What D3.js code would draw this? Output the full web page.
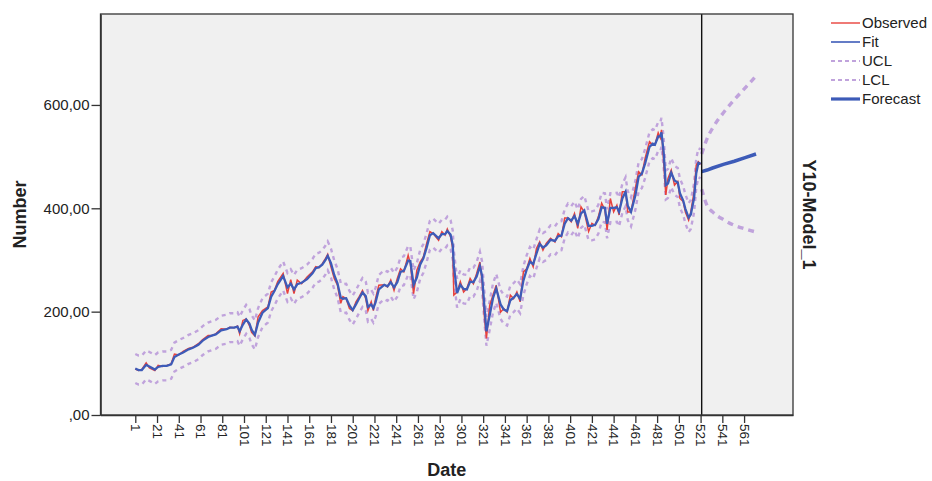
<!DOCTYPE html>
<html>
<head>
<meta charset="utf-8">
<script src="https://cdnjs.cloudflare.com/ajax/libs/d3/7.8.5/d3.min.js"></script>
<style>
  body { margin: 0; background: #fff; }
  text { font-family: "Liberation Sans", Arial, sans-serif; fill: #222; }
</style>
</head>
<body>
<svg id="chart" width="932" height="481"></svg>
<script>
// sample dates (case numbers)
var dates = [1,4,7,11,14,19,22,26,30,34,37,41,45,50,54,59,63,68,72,75,
  80,85,88,92,95,97,100,103,106,108,111,114,118,123,126,129,132,137,141,144,
  147,150,154,159,164,167,170,173,176,178,181,184,187,190,192,195,198,201,204,207,
  210,213,215,218,220,222,225,230,233,236,239,242,245,248,252,254,257,260,263,266,
  269,272,275,280,283,286,288,291,293,294,297,300,303,306,309,312,315,318,320,322,
  324,327,330,333,337,340,343,346,349,352,355,358,361,364,367,370,373,376,379,383,
  387,390,393,396,399,402,405,408,411,414,418,421,424,427,430,433,435,438,441,444,
  446,449,452,454,457,461,464,467,470,474,477,479,482,484,485,487,489,491,494,497,
  500,502,505,507,510,512,515,517,519,521];

var observed = [89,86,88,101,91,86,96,94,96,99,118,116,123,129,131,138,146,154,154,157,
  167,166,170,169,172,157,183,186,173,160,153,190,202,209,238,241,258,274,235,262,
  235,261,254,267,277,287,285,293,303,311,287,264,251,216,229,225,206,202,219,229,
  241,225,202,219,202,225,251,252,248,261,241,264,283,277,309,293,235,280,296,306,
  332,355,351,338,355,348,360,345,322,232,238,258,238,245,264,254,274,296,258,193,
  148,212,232,251,199,206,199,232,225,238,219,277,283,303,287,322,335,319,332,342,
  335,351,345,381,381,374,390,361,403,393,355,371,367,384,410,397,358,419,393,406,
  387,432,432,393,393,439,471,465,497,529,523,523,546,536,552,490,426,458,474,445,
  452,419,413,393,377,393,432,484,490,485];

var fit = [90,87,87,97,94,88,93,95,95,98,112,117,121,127,130,136,144,151,154,156,
  164,166,169,169,171,162,175,185,177,165,155,179,198,207,229,240,253,269,247,254,
  243,253,256,263,274,284,286,291,300,308,294,271,255,227,225,226,212,203,214,226,
  237,230,209,214,207,218,243,252,249,257,247,257,277,279,299,298,252,266,291,303,
  324,348,352,342,350,350,356,349,329,290,236,252,244,243,258,257,268,288,269,213,
  162,193,226,245,214,204,201,222,227,234,225,260,281,297,292,312,331,324,328,339,
  337,346,347,370,381,376,385,370,390,396,366,366,368,379,402,401,370,401,401,402,
  393,419,432,405,393,425,461,467,487,519,525,523,539,539,547,509,445,448,469,454,
  450,429,415,399,382,388,420,468,488,486];

var ucl = [118,115,115,125,122,116,121,123,123,126,140,145,149,155,158,164,172,179,182,184,
  192,194,197,197,199,190,203,213,205,193,183,207,226,235,257,268,281,297,275,282,
  271,281,284,291,302,312,314,319,328,336,322,299,283,255,253,254,240,231,242,254,
  265,258,237,242,235,246,271,280,277,285,275,285,305,307,327,326,280,294,319,331,
  352,376,380,370,378,378,384,377,357,318,264,280,272,271,286,285,296,316,297,241,
  190,221,254,273,242,232,229,250,255,262,253,288,309,325,320,340,359,352,356,367,
  365,374,375,398,409,404,413,398,418,424,394,394,396,407,430,429,398,429,429,430,
  421,447,460,433,421,453,489,495,515,547,553,551,567,567,575,537,473,476,497,482,
  478,457,443,427,410,416,448,496,516,514];

var lcl = [62,59,59,69,66,60,65,67,67,70,84,89,93,99,102,108,116,123,126,128,
  136,138,141,141,143,134,147,157,149,137,127,151,170,179,201,212,225,241,219,226,
  215,225,228,235,246,256,258,263,272,280,266,243,227,199,197,198,184,175,186,198,
  209,202,181,186,179,190,215,224,221,229,219,229,249,251,271,270,224,238,263,275,
  296,320,324,314,322,322,328,321,301,262,208,224,216,215,230,229,240,260,241,185,
  134,165,198,217,186,176,173,194,199,206,197,232,253,269,264,284,303,296,300,311,
  309,318,319,342,353,348,357,342,362,368,338,338,340,351,374,373,342,373,373,374,
  365,391,404,377,365,397,433,439,459,491,497,495,511,511,519,481,417,420,441,426,
  422,401,387,371,354,360,392,440,460,458];

// forecast period
var fcDates = [522,527,532,542,552,562,572];
var forecast = [471,474,478,485,491,498,505];
var fcUcl = [505,535,555,585,610,633,656];
var fcLcl = [437,405,393,378,367,360,354];

var xTicks = [1,21,41,61,81,101,121,141,161,181,201,221,241,261,281,301,321,341,361,381,
  401,421,441,461,481,501,521,541,561];
var yTicks = [0,200,400,600];
var yLabels = [",00","200,00","400,00","600,00"];

var svg = d3.select("#chart"),
    margin = {top: 14, right: 139, bottom: 66, left: 100.5},
    width = +svg.attr("width") - margin.left - margin.right,
    height = +svg.attr("height") - margin.top - margin.bottom;

var x = d3.scaleLinear().domain([-31, 606]).range([0, width]);
var y = d3.scaleLinear().domain([0, 776]).range([height, 0]);

function zip(d, v) {
  return d.map(function(t, i) { return {date: t, value: v[i]}; });
}

var line = d3.line()
    .x(function(d) { return x(d.date); })
    .y(function(d) { return y(d.value); });

var curved = d3.line()
    .x(function(d) { return x(d.date); })
    .y(function(d) { return y(d.value); })
    .curve(d3.curveMonotoneX);

var g = svg.append("g")
    .attr("transform", "translate(" + margin.left + "," + margin.top + ")");

g.append("rect")
    .attr("width", width)
    .attr("height", height)
    .attr("fill", "#f0f0f0");

g.append("clipPath").attr("id", "clip")
  .append("rect").attr("width", width).attr("height", height);

var plot = g.append("g").attr("clip-path", "url(#clip)");

var lilac = "#c0a3dc", red = "#e8413c", blue = "#3d5bb8";

[ucl, lcl].forEach(function(s) {
  plot.append("path")
      .datum(zip(dates, s))
      .attr("d", line)
      .attr("fill", "none")
      .attr("stroke", lilac)
      .attr("stroke-width", 2.4)
      .attr("stroke-dasharray", "4,4");
});

[fcUcl, fcLcl].forEach(function(s) {
  plot.append("path")
      .datum(zip(fcDates, s))
      .attr("d", curved)
      .attr("fill", "none")
      .attr("stroke", lilac)
      .attr("stroke-width", 3.4)
      .attr("stroke-dasharray", "6,5");
});

plot.append("path")
    .datum(zip(dates, observed))
    .attr("d", line)
    .attr("fill", "none")
    .attr("stroke", red)
    .attr("stroke-width", 1.5);

plot.append("path")
    .datum(zip(dates, fit))
    .attr("d", line)
    .attr("fill", "none")
    .attr("stroke", blue)
    .attr("stroke-width", 2.3);

plot.append("path")
    .datum(zip(fcDates, forecast))
    .attr("d", line)
    .attr("fill", "none")
    .attr("stroke", blue)
    .attr("stroke-width", 3.6);

// start of forecast
g.append("line")
    .attr("x1", x(fcDates[0])).attr("x2", x(fcDates[0]))
    .attr("y1", 0).attr("y2", height)
    .attr("stroke", "#111")
    .attr("stroke-width", 1.4);

g.append("rect")
    .attr("width", width)
    .attr("height", height)
    .attr("fill", "none")
    .attr("stroke", "#333")
    .attr("stroke-width", 1.3);

var yAxis = g.append("g")
    .call(d3.axisLeft(y).tickValues(yTicks)
      .tickFormat(function(d, i) { return yLabels[i]; })
      .tickSize(9).tickSizeOuter(0).tickPadding(2));
yAxis.select(".domain").attr("stroke", "#333").attr("stroke-width", 1.6);
yAxis.selectAll(".tick line").attr("stroke", "#333").attr("stroke-width", 1.3);
yAxis.selectAll("text").style("font-size", "15px").attr("fill", "#222");

var xAxis = g.append("g")
    .attr("transform", "translate(0," + height + ")")
    .call(d3.axisBottom(x).tickValues(xTicks).tickSize(8).tickSizeOuter(0));
xAxis.select(".domain").attr("stroke", "#333").attr("stroke-width", 1.6);
xAxis.selectAll(".tick line").attr("stroke", "#333").attr("stroke-width", 1.3);
xAxis.selectAll("text")
    .attr("transform", "rotate(90)")
    .attr("x", 9).attr("y", 0).attr("dy", "0.35em")
    .style("text-anchor", "start")
    .style("font-size", "13.5px")
    .attr("fill", "#222");

svg.append("text")
    .attr("transform", "translate(26," + (margin.top + height / 2) + ") rotate(-90)")
    .attr("text-anchor", "middle")
    .style("font-size", "18px").style("font-weight", "bold")
    .text("Number");

svg.append("text")
    .attr("x", margin.left + width / 2).attr("y", 476)
    .attr("text-anchor", "middle")
    .style("font-size", "18px").style("font-weight", "bold")
    .text("Date");

svg.append("text")
    .attr("transform", "translate(803," + (margin.top + height / 2) + ") rotate(90)")
    .attr("text-anchor", "middle")
    .style("font-size", "18px").style("font-weight", "bold")
    .text("Y10-Model_1");

// legend
var legendItems = [
  {name: "Observed", color: red, w: 1.4, dash: null},
  {name: "Fit", color: blue, w: 1.6, dash: null},
  {name: "UCL", color: lilac, w: 2, dash: "4,3"},
  {name: "LCL", color: lilac, w: 2, dash: "4,3"},
  {name: "Forecast", color: blue, w: 3.2, dash: null}
];
var lg = svg.append("g").attr("transform", "translate(831,23)");
legendItems.forEach(function(d, i) {
  var row = lg.append("g").attr("transform", "translate(0," + i * 19 + ")");
  row.append("line")
      .attr("x1", 0).attr("x2", 29)
      .attr("stroke", d.color)
      .attr("stroke-width", d.w)
      .attr("stroke-dasharray", d.dash);
  row.append("text")
      .attr("x", 31).attr("dy", "0.35em")
      .style("font-size", "15px")
      .text(d.name);
});
</script>
</body>
</html>
